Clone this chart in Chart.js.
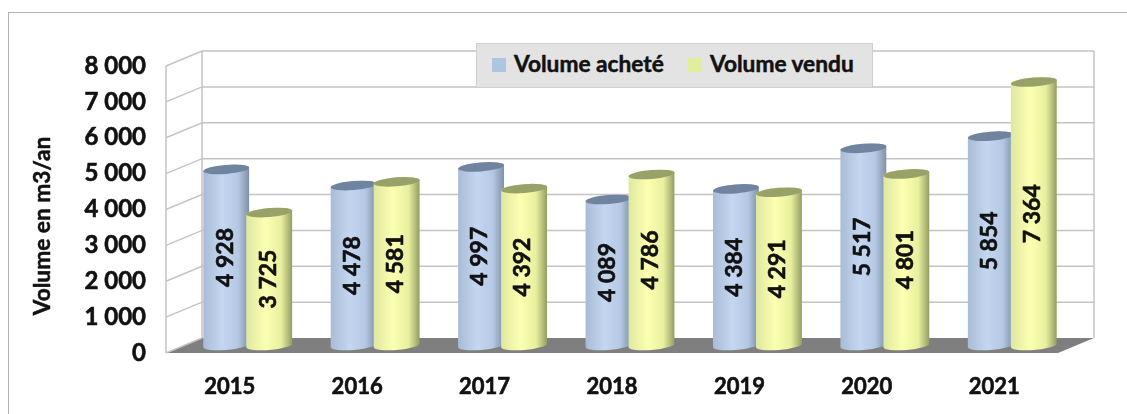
<!DOCTYPE html>
<html>
<head>
<meta charset="utf-8">
<title>Volume en m3/an</title>
<script src="https://cdn.jsdelivr.net/npm/chart.js@4/dist/chart.umd.min.js"></script>
<style>
    html, body { margin: 0; padding: 0; background: #fff; overflow: hidden; }
    #wrap { position: relative; width: 1127px; height: 414px; }
    #frame { position: absolute; left: 8px; top: 12px; right: 0; bottom: 0; border-left: 1px solid #b4b4b4; border-top: 1px solid #b4b4b4; }
    #legend { position: absolute; left: 476px; top: 43px; width: 395px; height: 43px; background: #e3e3e3; border: 1px solid #cfcfcf;
              font: bold 22.7px Lato, sans-serif; color: #111; -webkit-text-stroke: 0.5px #111; }
    #legend i { position: absolute; top: 14px; width: 14px; height: 14px; }
    #legend span { position: absolute; top: 6px; white-space: nowrap; }
    canvas { position: absolute; left: 0; top: 0; }
</style>
</head>
<body>
<div id="wrap">
    <div id="frame"></div>
    <canvas id="volumeChart" width="1127" height="414"></canvas>
    <div id="legend"></div>
</div>
<script>
const years = ['2015', '2016', '2017', '2018', '2019', '2020', '2021'];
const volumeAchete = [4928, 4478, 4997, 4089, 4384, 5517, 5854];
const volumeVendu = [3725, 4581, 4392, 4786, 4291, 4801, 7364];
const yTicks = [0, 1000, 2000, 3000, 4000, 5000, 6000, 7000, 8000];
const seriesNames = ['Volume acheté', 'Volume vendu'];
const yTitle = 'Volume en m3/an';

// fake 3d: how far the back wall sits from the front plane
const depthX = 36;
const depthY = 15;
const gridColor = '#c4c4c4';

const cylinderStyles = [
    { top: '#71849f', swatch: '#aec5e0', stops: ['#a9bcd6', '#c4d6f0', '#b5c8e3', '#7f90a6'] },
    { top: '#98a268', swatch: '#e3ee9c', stops: ['#dfe7a0', '#fdffb1', '#e9ef9f', '#949d62'] }
];

function fmt(v) {
    return String(v).replace(/\B(?=(\d{3})+$)/g, ' ');
}

const wallsPlugin = {
    id: 'walls',
    beforeDatasetsDraw(chart) {
        const { ctx, chartArea: a, scales: { y } } = chart;
        const bottom = y.getPixelForValue(0);
        ctx.save();

        // floor
        ctx.fillStyle = '#7f7f7f';
        ctx.beginPath();
        ctx.moveTo(a.left, bottom);
        ctx.lineTo(a.left + depthX, bottom - depthY);
        ctx.lineTo(a.right + depthX, bottom - depthY);
        ctx.lineTo(a.right, bottom);
        ctx.closePath();
        ctx.fill();

        ctx.strokeStyle = gridColor;
        ctx.lineWidth = 1.5;
        yTicks.forEach(t => {
            const py = y.getPixelForValue(t);
            ctx.beginPath();
            ctx.moveTo(a.left, py);
            ctx.lineTo(a.left + depthX, py - depthY);
            if (t > 0) ctx.lineTo(a.right + depthX, py - depthY);
            ctx.stroke();
        });

        const topY = y.getPixelForValue(8000);
        ctx.beginPath();
        ctx.moveTo(a.left, topY);
        ctx.lineTo(a.left, bottom);
        ctx.moveTo(a.left + depthX, topY - depthY);
        ctx.lineTo(a.left + depthX, bottom - depthY);
        ctx.moveTo(a.right + depthX, topY - depthY);
        ctx.lineTo(a.right + depthX, bottom - depthY);
        ctx.stroke();

        // axis title, lower than the middle of the scale
        ctx.translate(43, 226);
        ctx.rotate(-Math.PI / 2);
        ctx.fillStyle = '#111';
        ctx.strokeStyle = '#111';
        ctx.lineWidth = 0.5;
        ctx.font = 'bold 22.7px Lato, sans-serif';
        ctx.textAlign = 'center';
        ctx.textBaseline = 'middle';
        ctx.fillText(yTitle, 0, 0);
        ctx.strokeText(yTitle, 0, 0);
        ctx.restore();
    }
};

const cylindersPlugin = {
    id: 'cylinders',
    afterDatasetsDraw(chart) {
        const { ctx } = chart;
        const rot = -0.08;
        chart.data.datasets.forEach((ds, di) => {
            const style = cylinderStyles[di];
            chart.getDatasetMeta(di).data.forEach((bar, i) => {
                const p = bar.getProps(['x', 'y', 'base', 'width'], true);
                const cx = p.x + depthX / 2;
                const topY = p.y - depthY / 2 + 0.7;
                const baseY = p.base - depthY / 2;
                const rx = p.width / 2;
                const ry = 4.5;

                const g = ctx.createLinearGradient(cx - rx, 0, cx + rx, 0);
                g.addColorStop(0, style.stops[0]);
                g.addColorStop(0.42, style.stops[1]);
                g.addColorStop(0.76, style.stops[2]);
                g.addColorStop(1, style.stops[3]);

                ctx.save();
                ctx.fillStyle = g;
                ctx.beginPath();
                ctx.ellipse(cx, baseY, rx, ry, rot, 0, Math.PI);
                ctx.ellipse(cx, topY, rx, ry, rot, Math.PI, Math.PI * 2);
                ctx.closePath();
                ctx.fill();

                ctx.fillStyle = style.top;
                ctx.beginPath();
                ctx.ellipse(cx, topY, rx, ry, rot, 0, Math.PI * 2);
                ctx.fill();

                // value label, rotated along the cylinder
                ctx.translate(cx - 1, (topY + baseY) / 2);
                ctx.rotate(-Math.PI / 2);
                ctx.fillStyle = '#111';
                ctx.strokeStyle = '#111';
                ctx.lineWidth = 0.6;
                ctx.font = 'bold 23px Lato, sans-serif';
                ctx.textAlign = 'center';
                ctx.textBaseline = 'middle';
                ctx.fillText(fmt(ds.data[i]), 0, 0);
                ctx.strokeText(fmt(ds.data[i]), 0, 0);
                ctx.restore();
            });
        });
    }
};

new Chart(document.getElementById('volumeChart'), {
    type: 'bar',
    data: {
        labels: years,
        datasets: [
            { label: seriesNames[0], data: volumeAchete, backgroundColor: 'transparent', barPercentage: 1.07, categoryPercentage: 0.675 },
            { label: seriesNames[1], data: volumeVendu, backgroundColor: 'transparent', barPercentage: 1.07, categoryPercentage: 0.675 }
        ]
    },
    options: {
        responsive: false,
        animation: false,
        layout: { padding: { left: 0, top: 66, right: 69, bottom: 0 } },
        plugins: { legend: { display: false }, tooltip: { enabled: false } },
        scales: {
            x: {
                grid: { display: false },
                border: { display: false },
                ticks: { color: '#111', font: { family: 'Lato', weight: 'bold', size: 22 }, padding: 13, maxRotation: 0, textStrokeColor: '#111', textStrokeWidth: 0.6 },
                afterFit(s) { s.height = 61; }
            },
            y: {
                min: 0,
                max: 8000,
                afterBuildTicks(s) { s.ticks = yTicks.map(v => ({ value: v })); },
                grid: { display: false },
                border: { display: false },
                ticks: { color: '#111', font: { family: 'Lato', weight: 'bold', size: 24 }, padding: 12, callback: v => fmt(v), textStrokeColor: '#111', textStrokeWidth: 0.6 },
                afterFit(s) { s.width = 166; }
            }
        }
    },
    plugins: [wallsPlugin, cylindersPlugin]
});

// legend box sits over the back wall
const legend = document.getElementById('legend');
const legendSpots = [[15, 37], [211, 233]];
seriesNames.forEach((name, i) => {
    const sw = document.createElement('i');
    sw.style.left = legendSpots[i][0] + 'px';
    sw.style.background = cylinderStyles[i].swatch;
    const tx = document.createElement('span');
    tx.style.left = legendSpots[i][1] + 'px';
    tx.textContent = name;
    legend.append(sw, tx);
});
</script>
</body>
</html>
